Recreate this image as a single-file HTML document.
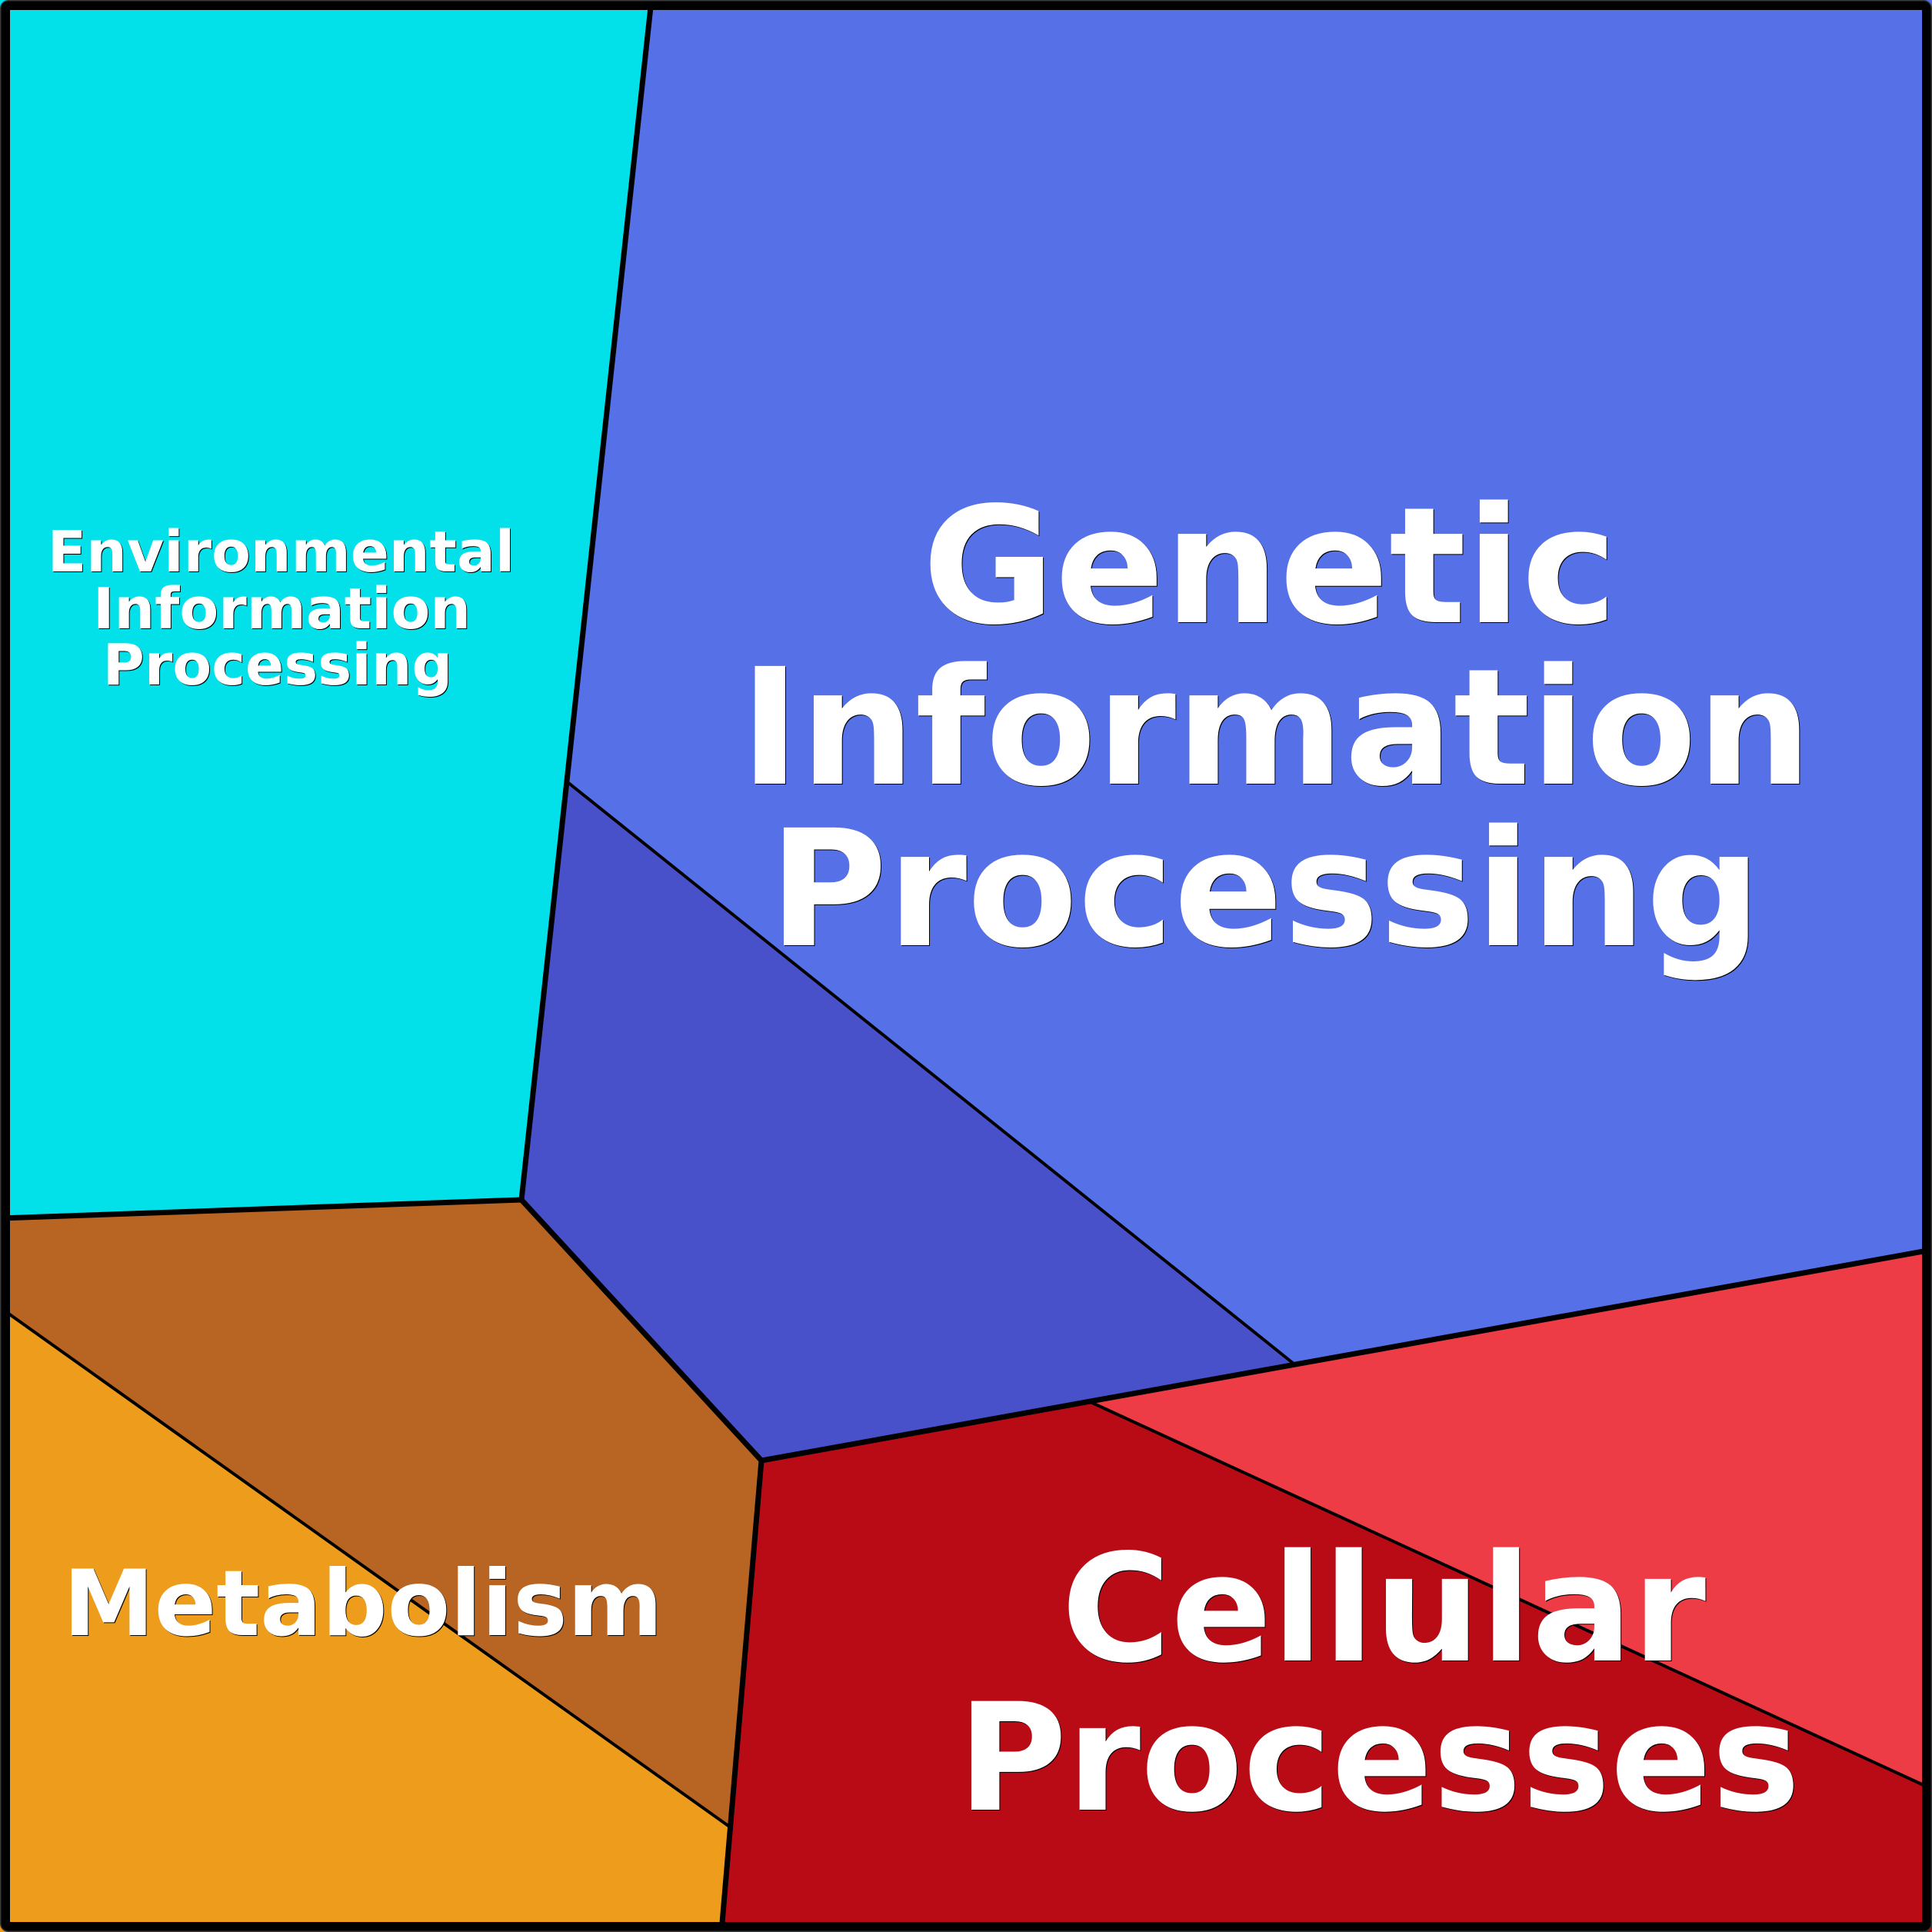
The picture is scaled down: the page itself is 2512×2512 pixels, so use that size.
<!DOCTYPE html>
<html><head><meta charset="utf-8"><style>
html,body{margin:0;padding:0;background:#fff}
svg{display:block}
text{font-family:"DejaVu Sans",sans-serif;font-weight:bold;text-anchor:middle}
.k{fill:#000}.w{fill:#fff}
</style></head><body>
<svg xmlns="http://www.w3.org/2000/svg" width="2512" height="2512" viewBox="0 0 2512 2512">
<rect width="2512" height="2512" fill="#000"/>
<polygon points="0,0 847,0 678,1560 0,1584" fill="#02e1ea"/>
<polygon points="847,0 2512,0 2512,1625 990,1899 678,1560" fill="#5671e7"/>
<polygon points="738,1017 1682,1773 990,1899 678,1560" fill="#4951ca"/>
<polygon points="0,1584 678,1560 990,1899 947,2374 0,1700" fill="#b86422"/>
<polygon points="0,1700 947,2374 938,2512 0,2512" fill="#ed9c1b"/>
<polygon points="990,1899 2512,1625 2512,2512 938,2512" fill="#b80b15"/>
<polygon points="1418,1823 2512,1625 2512,2326" fill="#ed3c45"/>
<g fill="none" stroke="#000" stroke-linejoin="miter">
<path d="M738,1017 L1682,1773 M1418,1823 L2512,2326 M0,1700 L947,2374" stroke-width="4"/>
<path d="M847,0 L678,1560 L990,1899 L938,2512 M0,1584 L678,1560 M990,1899 L2512,1625" stroke-width="7"/>
</g>
<rect x="6.5" y="6.5" width="2499" height="2499" rx="6" fill="none" stroke="#000" stroke-width="13"/>
<rect x="0.75" y="0.75" width="2510.5" height="2510.5" rx="10" fill="none" stroke="#3a3a3a" stroke-width="1.5"/>

<g font-size="74">
<text class="k" x="366.5" y="744">Environmental</text><text class="w" x="365.5" y="743">Environmental</text>
<text class="k" x="367.5" y="818">Information</text><text class="w" x="366.5" y="817">Information</text>
<text class="k" x="362" y="891">Processing</text><text class="w" x="361" y="890">Processing</text>
</g>
<g font-size="210">
<text class="k" x="1652" y="810">Genetic</text><text class="w" x="1651" y="809">Genetic</text>
<text class="k" x="1660" y="1020">Information</text><text class="w" x="1659" y="1019">Information</text>
<text class="k" x="1646" y="1230">Processing</text><text class="w" x="1645" y="1229">Processing</text>
</g>
<text class="k" font-size="119" x="473" y="2127">Metabolism</text><text class="w" font-size="119" x="472" y="2126">Metabolism</text>
<g font-size="194">
<text class="k" x="1800" y="2160">Cellular</text><text class="w" x="1799" y="2159">Cellular</text>
<text class="k" x="1794" y="2354">Processes</text><text class="w" x="1793" y="2353">Processes</text>
</g>
</svg>
</body></html>
